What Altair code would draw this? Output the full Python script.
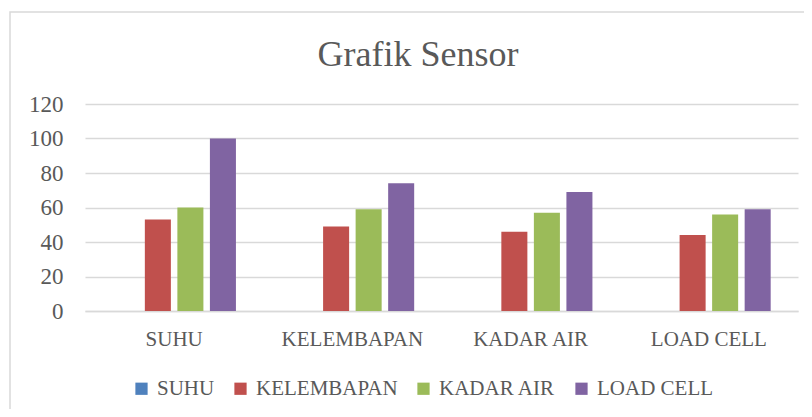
import altair as alt
import pandas as pd

title_text = "Grafik Sensor"
categories = ["SUHU", "KELEMBAPAN", "KADAR AIR", "LOAD CELL"]
series = ["SUHU", "KELEMBAPAN", "KADAR AIR", "LOAD CELL"]
suhu = [0, 0, 0, 0]
kelembapan = [53, 49, 46, 44]
kadar_air = [60, 59, 57, 56]
load_cell = [100, 74, 69, 59]
colors = ["#4F81BD", "#C0504D", "#9BBB59", "#8064A2"]
y_ticks = [0, 20, 40, 60, 80, 100, 120]

rows = []
for s, vals in zip(series, [suhu, kelembapan, kadar_air, load_cell]):
    for c, v in zip(categories, vals):
        rows.append({"Kategori": c, "Seri": s, "Nilai": v})
df = pd.DataFrame(rows)

FONT = "Liberation Serif"
GREY = "#595959"
LINE = "#d9d9d9"

bars = alt.Chart(df).mark_bar().encode(
    x=alt.X("Kategori:N", sort=categories,
            scale=alt.Scale(paddingInner=0.27, paddingOuter=0.135),
            axis=alt.Axis(title=None, labelAngle=0, labelFont=FONT, labelFontSize=21,
                          labelColor=GREY, ticks=False, domainColor=LINE, domainWidth=1.5,
                          labelPadding=17, grid=False)),
    xOffset=alt.XOffset("Seri:N", sort=series,
                        scale=alt.Scale(paddingInner=0.2, paddingOuter=0.1)),
    y=alt.Y("Nilai:Q", scale=alt.Scale(domain=[0, 120], nice=False),
            axis=alt.Axis(title=None, values=y_ticks, labelFont=FONT, labelFontSize=23,
                          labelColor=GREY, ticks=False, domain=False, gridColor=LINE,
                          gridWidth=1.5, labelPadding=22)),
    color=alt.Color("Seri:N", sort=series,
                    scale=alt.Scale(domain=series, range=colors),
                    legend=alt.Legend(title=None, orient="none", direction="horizontal",
                                      columns=4, legendX=46, legendY=274, padding=0,
                                      symbolType="square", symbolSize=150,
                                      symbolStrokeWidth=0, labelOffset=5,
                                      columnPadding=15, labelFont=FONT,
                                      labelFontSize=21, labelColor=GREY)),
)

border = alt.Chart(pd.DataFrame({"a": [0]})).mark_rect(
    fill=None, fillOpacity=0, stroke=LINE, strokeWidth=1.5
).encode(
    x=alt.value(-75), x2=alt.value(800), y=alt.value(-92), y2=alt.value(420)
)

title = alt.Chart(pd.DataFrame({"t": [title_text]})).mark_text(
    font=FONT, fontSize=36, color=GREY, baseline="alphabetic", align="center"
).encode(
    text="t:N", x=alt.value(333), y=alt.value(-38)
)

chart = alt.layer(border, bars, title).properties(
    width=713,
    height=207,
    padding={"left": 77, "top": 96, "right": 6, "bottom": 98},
    autosize=alt.AutoSizeParams(type="none"),
).configure_view(stroke=None)

chart.save("out.html", embed_options={"renderer": "svg", "actions": False})
